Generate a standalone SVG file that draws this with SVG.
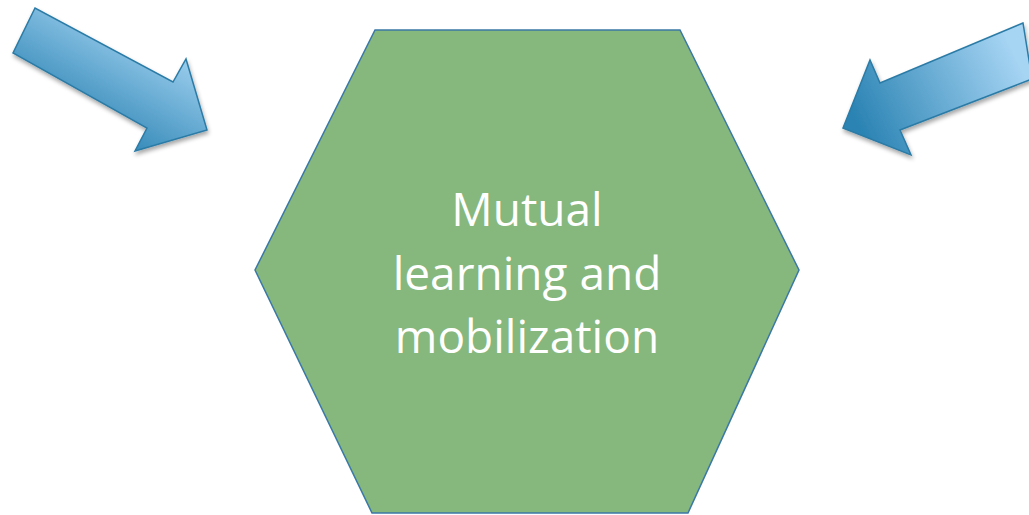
<svg xmlns="http://www.w3.org/2000/svg" width="1029" height="515" viewBox="0 0 1029 515">
<style>
.arrow{stroke:#2b7ba6;stroke-width:1.5;stroke-linejoin:miter;filter:url(#shadow)}
.hex{fill:#86b77d;stroke:#3a78a6;stroke-width:1.5}
.label{font-family:"Open Sans","Noto Sans",sans-serif;font-size:46px;fill:#ffffff;text-anchor:middle}
</style>
<defs>
<filter id="shadow" x="-20%" y="-20%" width="140%" height="150%">
<feDropShadow dx="1" dy="3" stdDeviation="2" flood-color="#000" flood-opacity="0.35"/>
</filter>
<linearGradient id="gl" gradientUnits="userSpaceOnUse" x1="175" y1="35" x2="110" y2="150">
<stop offset="0" stop-color="#a8d6f4"/>
<stop offset="1" stop-color="#2c84b4"/>
</linearGradient>
<linearGradient id="gr" gradientUnits="userSpaceOnUse" x1="1010" y1="45" x2="855" y2="120">
<stop offset="0" stop-color="#a6d4f3"/>
<stop offset="1" stop-color="#2a83b3"/>
</linearGradient>
</defs>
<g id="connectors">
<polygon id="arrow-left" class="arrow" fill="url(#gl)" points="35,8 13,53 147,128 135,151 207,130 186,59 173,82"/>
<polygon id="arrow-right" class="arrow" fill="url(#gr)" points="1023,23 880,83 870,60 843,128 911,155 900,130 1032,79"/>
</g>
<g id="hexagon">
<polygon class="hex" points="375,30 680,30 799,270 688,513 372,513 255,270"/>
<text class="label" x="527" y="226">Mutual</text>
<text class="label" x="527" y="290">learning and</text>
<text class="label" x="527" y="353">mobilization</text>
</g>
</svg>
